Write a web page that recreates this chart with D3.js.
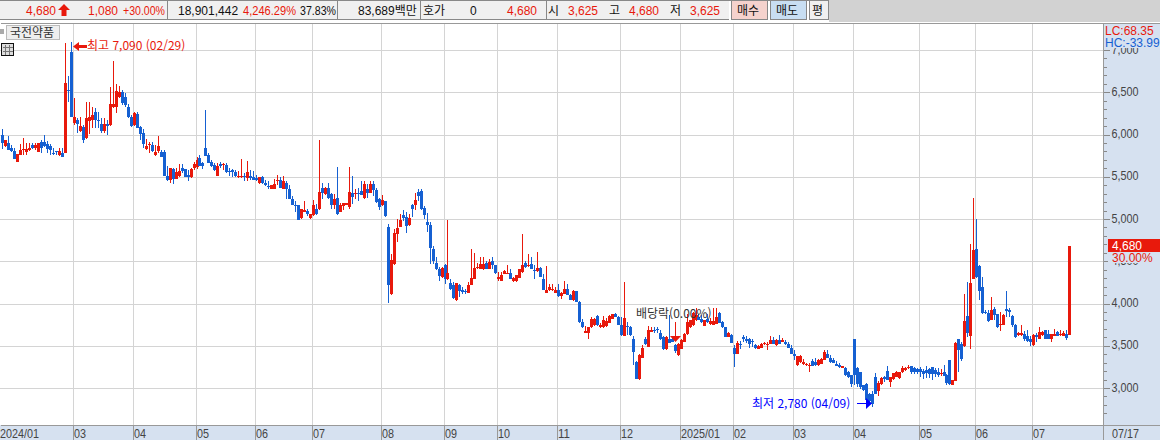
<!DOCTYPE html>
<html lang="ko">
<head>
<meta charset="UTF-8">
<title>국전약품 일봉</title>
<script src="https://d3js.org/d3.v7.min.js"></script>
<style>
    html, body { margin: 0; padding: 0; background: #fff; overflow: hidden; }
    svg { display: block; }
    text { font-family: "Liberation Sans", "Noto Sans CJK KR", sans-serif; font-size: 12px; }
    .kr { font-family: "Noto Sans CJK KR", sans-serif; }
    .tick text, .axis-label { fill: #444; font-size: 13px; }
</style>
</head>
<body>
<svg id="chart" width="1160" height="440"></svg>
<script>
// candles per month: [open, high, low, close]
const m2401 = [[6000,6060,5830,5895],[5863,5940,5855,5934],[5902,5980,5817,5817],[5836,5875,5797,5805],[5809,5836,5707,5711],[5680,5770,5680,5770],[5762,5887,5758,5817],[5813,5953,5758,5824],[5797,5895,5758,5828],[5817,5895,5809,5840],[5875,5895,5824,5840],[5844,5902,5817,5875],[5797,5902,5797,5902],[5914,5934,5778,5836],[5906,6000,5856,5867],[5883,5926,5778,5824],[5867,5887,5762,5817],[5778,5836,5758,5774],[5801,5809,5758,5793],[5758,5836,5746,5801],[5785,5836,5739,5739],[5784,7080,5780,6608],[6530,6690,6380,6510],[6975,7090,6206,6206]];
const m2403 = [[6131,6427,6111,6202],[6170,6190,6013,6123],[6039,6205,6030,6097],[6090,6115,5895,5934],[5961,6387,5950,6190],[6162,6387,6010,6210],[6170,6330,6080,6230],[6269,6308,6072,6170],[6170,6269,6072,6162],[6120,6190,6020,6045],[6044,6190,6020,6130],[6130,6170,5990,6105],[6111,6557,6100,6360],[6320,6868,6310,6360],[6320,6600,6250,6518],[6438,6573,6430,6505],[6505,6525,6350,6368],[6446,6486,6330,6348],[6320,6360,6190,6202],[6202,6230,6090,6100]];
const m2404 = [[6110,6270,6100,6250],[6240,6270,6080,6082],[6090,6095,5934,6010],[6020,6070,5836,5887],[5832,5942,5817,5863],[5875,5914,5785,5883],[5875,5914,5797,5809],[5754,5875,5746,5793],[5809,5980,5778,5863],[5797,5817,5731,5739],[5797,5817,5505,5512],[5512,5625,5450,5458],[5458,5602,5427,5602],[5594,5602,5420,5474],[5478,5602,5470,5551],[5505,5653,5497,5563],[5602,5653,5543,5563],[5590,5595,5497,5497],[5524,5583,5446,5493],[5493,5602,5490,5590],[5602,5680,5580,5653]];
const m2405 = [[5614,5739,5594,5700],[5719,5758,5633,5633],[5660,5680,5590,5633],[5836,6288,5740,5746],[5758,5778,5668,5668],[5680,5700,5620,5622],[5641,5660,5563,5583],[5512,5668,5505,5622],[5653,5680,5600,5622],[5637,5660,5583,5649],[5641,5660,5540,5555],[5571,5602,5505,5563],[5575,5590,5497,5551],[5551,5583,5497,5512],[5497,5563,5485,5505],[5497,5711,5485,5512],[5505,5543,5446,5497],[5485,5692,5446,5551],[5505,5575,5458,5485],[5497,5563,5458,5466]];
const m2406 = [[5485,5524,5446,5466],[5427,5497,5420,5493],[5497,5505,5420,5427],[5427,5466,5388,5400],[5388,5446,5360,5376],[5360,5407,5360,5407],[5360,5470,5358,5419],[5450,5524,5407,5458],[5466,5497,5368,5368],[5360,5512,5358,5446],[5427,5446,5240,5357],[5360,5407,5232,5232],[5232,5270,5160,5162],[5162,5212,5085,5154],[5162,5165,4990,4990],[5010,5115,5005,5115],[5083,5208,5080,5107],[5095,5115,5035,5056],[5010,5060,5005,5056]];
const m2407 = [[5045,5222,5040,5163],[5124,5175,5050,5057],[5116,5939,5110,5324],[5371,5429,5233,5312],[5292,5380,5285,5371],[5371,5429,5241,5253],[5292,5304,5116,5163],[5163,5292,5116,5233],[5245,5618,5045,5057],[5088,5186,5077,5163],[5155,5186,5104,5186],[5167,5190,5160,5186],[5139,5618,5116,5324],[5312,5504,5175,5257],[5292,5359,5233,5312],[5312,5371,5214,5304],[5328,5449,5280,5280],[5253,5445,5241,5410],[5351,5410,5253,5304],[5312,5449,5310,5410],[5410,5449,5273,5343],[5343,5371,5194,5202],[5233,5253,5104,5147]];
const m2408 = [[5163,5280,5155,5222],[5210,5215,5022,5037],[4900,4939,4010,4214],[4108,4587,4100,4516],[4469,4881,4460,4834],[4822,4998,4732,4892],[4904,5057,4900,4986],[5045,5104,4979,5006],[5018,5077,4834,4916],[4928,5057,4920,5010],[5163,5175,5022,5116],[5163,5312,5104,5222],[5320,5351,5214,5273],[5328,5359,5108,5116],[5128,5155,4998,5045],[4967,5069,4849,4928],[4928,4959,4469,4661],[4645,4677,4469,4504],[4481,4547,4391,4410],[4410,4430,4261,4324],[4312,4430,4300,4418]];
const m2409 = [[4457,4469,4234,4285],[4285,4986,4273,4363],[4246,4293,4160,4167],[4214,4250,4050,4065],[4038,4246,4026,4246],[4214,4234,4077,4144],[4163,4195,4108,4136],[4144,4175,4108,4136],[4128,4254,4120,4222],[4222,4645,4215,4304],[4293,4598,4285,4422],[4422,4477,4410,4434],[4410,4547,4405,4469],[4410,4547,4402,4469],[4481,4508,4410,4410],[4410,4528,4408,4497],[4508,4547,4410,4450],[4450,4457,4352,4363]];
const m2410 = [[4293,4371,4265,4312],[4269,4371,4265,4340],[4352,4402,4348,4387],[4348,4457,4345,4363],[4363,4410,4293,4293],[4261,4308,4258,4304],[4265,4340,4258,4340],[4304,4412,4300,4410],[4371,4822,4365,4457],[4481,4508,4420,4430],[4438,4587,4430,4461],[4469,4547,4405,4410],[4399,4450,4285,4391],[4379,4606,4375,4422],[4422,4430,4308,4312],[4293,4352,4160,4163],[4128,4449,4120,4163],[4159,4234,4150,4195],[4159,4234,4145,4175],[4128,4195,4120,4159]];
const m2411 = [[4159,4234,4080,4085],[4085,4140,4050,4128],[4116,4269,4110,4175],[4175,4234,4095,4097],[4105,4110,4038,4040],[4040,4155,4035,4148],[4148,4150,4018,4018],[4020,4032,3775,3783],[3783,3822,3715,3723],[3656,3730,3645,3672],[3656,3724,3577,3723],[3723,3842,3715,3814],[3743,3830,3735,3814],[3850,3860,3735,3743],[3723,3770,3715,3743],[3723,3850,3715,3802],[3731,3830,3720,3795],[3775,3862,3770,3854],[3822,3870,3815,3870],[3881,3890,3835,3842],[3842,3850,3743,3743]];
const m2412 = [[3743,3842,3620,3625],[3617,4249,3610,3830],[3731,3783,3625,3716],[3723,3730,3620,3625],[3585,3617,3269,3427],[3309,3320,3105,3111],[3103,3400,3098,3388],[3360,3506,3350,3479],[3585,3605,3510,3526],[3487,3730,3480,3692],[3664,3724,3660,3692],[3692,3724,3645,3684],[3696,3724,3645,3692],[3652,3684,3570,3585],[3605,3610,3447,3467],[3459,3610,3450,3605],[3577,3862,3530,3538],[3577,3590,3540,3546],[3506,3520,3420,3435],[3388,3530,3375,3518]];
const m2501 = [[3467,3580,3460,3573],[3546,3650,3540,3644],[3637,3881,3630,3783],[3723,3802,3715,3802],[3743,3900,3735,3889],[3802,3941,3795,3862],[3842,3870,3800,3810],[3822,3862,3765,3783],[3735,3810,3730,3802],[3822,3881,3775,3783],[3755,3830,3750,3795],[3751,3941,3745,3795],[3763,3941,3755,3842],[3893,3900,3770,3775],[3783,3790,3715,3716],[3716,3723,3605,3605],[3605,3660,3600,3656],[3625,3640,3538,3538]];
const m2502 = [[3475,3510,3250,3407],[3407,3560,3400,3534],[3526,3560,3465,3518],[3605,3625,3540,3585],[3585,3610,3530,3558],[3577,3590,3475,3526],[3558,3575,3490,3546],[3506,3526,3465,3479],[3467,3510,3460,3498],[3479,3530,3470,3526],[3518,3540,3505,3534],[3506,3540,3447,3526],[3526,3610,3520,3573],[3573,3600,3520,3526],[3506,3585,3500,3573],[3573,3625,3515,3526],[3546,3590,3540,3573],[3546,3565,3510,3518],[3518,3546,3470,3479],[3479,3506,3400,3407]];
const m2503 = [[3407,3447,3330,3376],[3269,3380,3260,3376],[3309,3385,3300,3376],[3281,3348,3275,3309],[3269,3300,3260,3289],[3262,3300,3190,3277],[3321,3340,3258,3262],[3309,3360,3262,3269],[3269,3345,3260,3336],[3289,3350,3285,3348],[3336,3455,3330,3427],[3400,3447,3355,3360],[3360,3388,3300,3309],[3328,3350,3290,3297],[3289,3320,3255,3262],[3269,3290,3240,3250],[3240,3265,3235,3262],[3242,3250,3145,3150],[3190,3200,3120,3131],[3150,3155,3012,3052]];
const m2504 = [[3577,3580,3040,3150],[3242,3250,3010,3052],[3190,3195,2990,3012],[3032,3040,2960,2973],[3052,3060,2850,2855],[2934,2940,2840,2847],[2934,2960,2780,2815],[3131,3180,2930,2934],[2965,3080,2905,3064],[3052,3130,3040,3123],[3131,3140,3070,3111],[3198,3260,3090,3099],[3072,3135,3012,3131],[3111,3180,3100,3178],[3131,3200,3125,3190],[3115,3190,3110,3185],[3185,3258,3173,3239],[3212,3250,3200,3239],[3231,3270,3220,3243],[3258,3265,3160,3192],[3231,3250,3170,3192],[3223,3240,3170,3192]];
const m2505 = [[3220,3250,3135,3185],[3204,3230,3105,3162],[3212,3258,3115,3173],[3220,3231,3115,3162],[3243,3250,3096,3162],[3212,3231,3127,3162],[3192,3231,3127,3154],[3162,3220,3140,3180],[3192,3275,3140,3142],[3154,3160,3038,3058],[3327,3330,3030,3046],[3038,3100,3030,3096],[3088,3540,3080,3527],[3575,3580,3186,3452],[3516,3545,3317,3345],[3496,4111,3490,3790],[3849,4254,3603,3651],[3615,4707,3456,4238],[4290,5243,4285,4635]];
const m2506 = [[4643,5005,4298,4310],[4445,4450,4040,4151],[4191,4318,3881,3889],[3900,3920,3870,3885],[3893,3920,3782,3794],[3810,4072,3800,3921],[3933,3960,3800,3861],[3873,3880,3710,3722],[3742,3901,3675,3762],[3750,3870,3745,3861],[3933,4147,3841,3913],[3921,3945,3841,3900],[3849,3860,3720,3742],[3750,3755,3590,3603],[3623,3660,3610,3655],[3623,3742,3610,3655],[3635,3680,3560,3575],[3615,3690,3540,3556],[3583,3620,3496,3544]];
const m2507 = [[3504,3635,3500,3623],[3623,3650,3544,3603],[3583,3722,3578,3663],[3623,3670,3618,3663],[3683,3690,3580,3583],[3643,3690,3575,3583],[3575,3640,3544,3635],[3615,3702,3610,3643],[3663,3680,3610,3615],[3623,3683,3615,3643],[3615,3670,3610,3655],[3643,3690,3564,3595],[3625,4680,3625,4680]];

const months = [m2401, m2403, m2404, m2405, m2406, m2407, m2408, m2409, m2410, m2411, m2412, m2501, m2502, m2503, m2504, m2505, m2506, m2507];
const monthLabels = ['2024/01', '03', '04', '05', '06', '07', '08', '09', '10', '11', '12', '2025/01', '02', '03', '04', '05', '06', '07'];
const yLabels = [3000, 3500, 4000, 4500, 5000, 5500, 6000, 6500, 7000];
const yMinor = d3.range(2700, 7001, 100);

const RED = '#e8190c';
const BLUE = '#1560d2';
const PANEL = '#d6e1f0';

const candles = months.flat();
let start = 0;
const monthStart = months.map(m => { const s = start; start += m.length; return s; });

const svg = d3.select('#chart');
const axisX = 1103, axisY = 425;

const x = d3.scaleLinear().domain([24, candles.length - 1]).range([73, 1068]);
const y = d3.scaleLinear().domain([3000, 7000]).range([388, 50]);
const px = i => Math.round(x(i));
const py = v => Math.round(y(v));

// the axis font is narrower than Liberation, so squeeze labels to its widths
const labelWidth = s => s.replace(/[^0-9]/g, '').length * 6 + s.replace(/[0-9]/g, '').length * 3;

// right and bottom panels
svg.append('rect').attr('x', axisX).attr('y', 23).attr('width', 1160 - axisX).attr('height', 417).attr('fill', PANEL);
svg.append('rect').attr('x', 0).attr('y', axisY).attr('width', 1160).attr('height', 15).attr('fill', PANEL);

// gridlines
const grid = svg.append('g').attr('shape-rendering', 'crispEdges');
grid.selectAll('.h').data(yLabels).join('line')
    .attr('x1', 0).attr('x2', axisX)
    .attr('y1', d => py(d) + 0.5).attr('y2', d => py(d) + 0.5)
    .attr('stroke', '#d4d4d4');
grid.selectAll('.v').data(monthStart.slice(1)).join('line')
    .attr('x1', d => px(d) + 0.5).attr('x2', d => px(d) + 0.5)
    .attr('y1', 23).attr('y2', axisY)
    .attr('stroke', '#d4d4d4');

// candles
const candle = svg.append('g').attr('shape-rendering', 'crispEdges')
    .selectAll('g').data(candles).join('g')
    .attr('fill', d => d[3] >= d[0] ? RED : BLUE);
candle.append('rect')
    .attr('x', (d, i) => px(i) + 1).attr('width', 1)
    .attr('y', d => py(d[1]))
    .attr('height', d => Math.max(1, py(d[2]) - py(d[1])));
candle.append('rect')
    .attr('x', (d, i) => px(i)).attr('width', 3)
    .attr('y', d => py(Math.max(d[0], d[3])))
    .attr('height', d => Math.max(1, py(Math.min(d[0], d[3])) - py(Math.max(d[0], d[3]))));

// axis frame
svg.append('g').attr('shape-rendering', 'crispEdges').selectAll('line')
    .data([[axisX, 23, axisX, 440], [0, axisY, 1160, axisY], [0, 23, 1160, 23]]).join('line')
    .attr('x1', d => d[0] + 0.5).attr('y1', d => d[1] + 0.5)
    .attr('x2', d => d[2] + 0.5).attr('y2', d => d[3] + 0.5)
    .attr('stroke', '#999');

// y axis ticks and labels
const yAxisMinor = d3.axisRight(y).tickValues(yMinor).tickSize(3).tickFormat('');
const yAxis = d3.axisRight(y).tickValues(yLabels).tickSize(6).tickPadding(2).tickFormat(d3.format(','));
[yAxisMinor, yAxis].forEach(a => {
    const g = svg.append('g').attr('transform', `translate(${axisX + 0.5},0)`).attr('shape-rendering', 'crispEdges').call(a);
    g.select('.domain').remove();
    g.selectAll('line').attr('stroke', '#888');
    g.selectAll('text').attr('y', -1).attr('textLength', 27).attr('lengthAdjust', 'spacingAndGlyphs');
});

// x axis labels
const xLabels = svg.append('g');
xLabels.selectAll('line').data(monthStart.slice(1)).join('line')
    .attr('x1', d => px(d) + 0.5).attr('x2', d => px(d) + 0.5)
    .attr('y1', axisY).attr('y2', 440).attr('stroke', '#999').attr('shape-rendering', 'crispEdges');
xLabels.selectAll('text').data(monthLabels).join('text')
    .attr('class', 'axis-label')
    .attr('x', (d, i) => i === 0 ? 0 : px(monthStart[i]) + 1)
    .attr('y', 438)
    .attr('textLength', d => labelWidth(d)).attr('lengthAdjust', 'spacingAndGlyphs')
    .text(d => d);
svg.append('text').attr('class', 'axis-label').attr('x', 1112).attr('y', 438)
    .attr('textLength', labelWidth('07/17')).attr('lengthAdjust', 'spacingAndGlyphs').text('07/17');

// right panel labels that sit over the axis
svg.append('rect').attr('x', 1104).attr('y', 24).attr('width', 56).attr('height', 24).attr('fill', PANEL);
svg.append('text').attr('x', 1105).attr('y', 35).attr('fill', RED).text('LC:68.35');
svg.append('text').attr('x', 1105).attr('y', 47).attr('fill', BLUE).text('HC:-33.99');
svg.append('rect').attr('x', 1108).attr('y', 239).attr('width', 52).attr('height', 13).attr('fill', RED);
svg.append('rect').attr('x', 1108).attr('y', 252).attr('width', 52).attr('height', 11).attr('fill', PANEL);
svg.append('text').attr('x', 1112).attr('y', 250).attr('fill', '#fff').text('4,680');
svg.append('text').attr('x', 1112).attr('y', 262).attr('fill', RED).text('30.00%');

// annotations
svg.append('path').attr('d', 'M73 46.5L79 42V45H87V48H79V51Z').attr('fill', RED);
svg.append('text').attr('class', 'kr').attr('x', 87).attr('y', 50).attr('fill', RED).text('최고 7,090 (02/29)');
svg.append('text').attr('class', 'kr').attr('x', 636).attr('y', 318).attr('fill', '#333').text('배당락(0.00%)');
svg.append('path').attr('d', 'M675 322H676V336H681L675.5 342L670 336H675Z').attr('fill', RED);
svg.append('text').attr('class', 'kr').attr('x', 752).attr('y', 408).attr('fill', '#0000ff').text('최저 2,780 (04/09)');
svg.append('path').attr('d', 'M857 403H866V398L872 403.5L866 409V404H857Z').attr('fill', '#0000ff');

// stock name button and calendar icon
svg.append('rect').attr('x', 0).attr('y', 29).attr('width', 4).attr('height', 5).attr('fill', '#aaa');
svg.append('rect').attr('x', 6.5).attr('y', 25.5).attr('width', 53).attr('height', 14).attr('fill', '#eee').attr('stroke', '#bbb');
svg.append('text').attr('class', 'kr').attr('x', 10).attr('y', 37).attr('fill', '#333').text('국전약품');
svg.append('rect').attr('x', 1.5).attr('y', 43.5).attr('width', 12).attr('height', 12).attr('fill', '#ddd').attr('stroke', '#111');
svg.append('path').attr('d', 'M3 47.5H13M3 51.5H13M5.5 45V55M9.5 45V55').attr('stroke', '#777').attr('fill', 'none');

// top toolbar
svg.append('rect').attr('x', 0).attr('y', 0).attr('width', 1160).attr('height', 22).attr('fill', '#fff');
svg.append('rect').attr('x', 829).attr('y', 0).attr('width', 331).attr('height', 22).attr('fill', '#d2d2d2');
svg.append('rect').attr('x', 0).attr('y', 1).attr('width', 729).attr('height', 18).attr('fill', '#f0f0f0');
svg.append('g').attr('shape-rendering', 'crispEdges').selectAll('line')
    .data([[0, 0.5, 829, 0.5], [0, 19.5, 729, 19.5], [167.5, 1, 167.5, 19], [337.5, 1, 337.5, 19], [420.5, 1, 420.5, 19], [546.5, 1, 546.5, 19]]).join('line')
    .attr('x1', d => d[0]).attr('y1', d => d[1]).attr('x2', d => d[2]).attr('y2', d => d[3])
    .attr('stroke', '#888');
svg.append('path').attr('d', 'M64 4L70 10H66.5V16H61.5V10H58Z').attr('fill', RED);

const buttons = [[731, 36, '#f5d2cd', '매수'], [770, 36, '#c8def2', '매도'], [809, 19, '#f0f0f0', '평']];
svg.selectAll('.btn').data(buttons).join('rect')
    .attr('x', d => d[0] + 0.5).attr('y', 0.5).attr('width', d => d[1]).attr('height', 19)
    .attr('fill', d => d[2]).attr('stroke', '#888');

const toolbarText = [
    [26, '4,680', RED], [88, '1,080', RED], [123, '+30.00%', RED, 42], [178, '18,901,442', '#111'],
    [243, '4,246.29%', RED, 53], [300, '37.83%', '#111', 36], [358, '83,689백만', '#111'], [423, '호가', '#111'],
    [470, '0', '#111'], [507, '4,680', RED], [548, '시', '#111'], [568, '3,625', RED], [609, '고', '#111'],
    [629, '4,680', RED], [670, '저', '#111'], [690, '3,625', RED], [737, '매수', '#111'], [776, '매도', '#111'], [812, '평', '#111']
];
svg.append('g').selectAll('text').data(toolbarText).join('text')
    .attr('x', d => d[0]).attr('y', 15).attr('fill', d => d[2])
    .attr('textLength', d => d[3] || null).attr('lengthAdjust', 'spacingAndGlyphs')
    .text(d => d[1]);
</script>
</body>
</html>
